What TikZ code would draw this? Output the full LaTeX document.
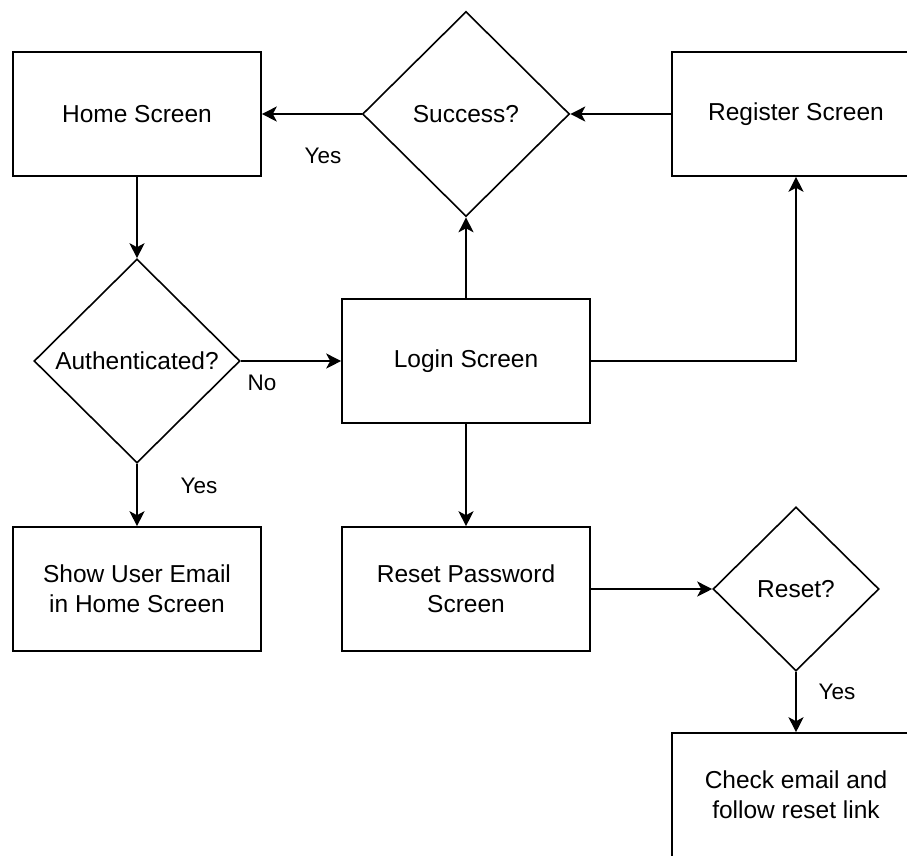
\documentclass[tikz,border=0pt]{standalone}
\usepackage{fontspec}
\setmainfont{Liberation Sans}
\usetikzlibrary{shapes.geometric,arrows.meta}
\begin{document}
\begin{tikzpicture}[x=1pt,y=-1pt,
  box/.style={draw=black,line width=1.6pt,rectangle,minimum width=248pt,minimum height=124pt,inner sep=0pt,align=center,font=\fontsize{24.5}{30}\selectfont},
  decision/.style={draw=black,line width=1.6pt,diamond,aspect=1,inner sep=0pt,align=center,font=\fontsize{24.5}{30}\selectfont},
  conn/.style={line width=1.6pt,-{Stealth[length=15pt,width=15pt,inset=4pt]}},
  lbl/.style={font=\fontsize{22.5}{26}\selectfont,inner sep=0pt}]
\useasboundingbox (0,0) rectangle (907,855);
\node[box] (home) at (137,114) {Home Screen};
\node[decision,minimum width=207pt,minimum height=205pt] (succ) at (466,114) {Success?};
\node[box] (reg) at (796,114) {Register Screen};
\node[decision,minimum width=206pt,minimum height=204pt] (auth) at (137,361) {Authenticated?};
\node[box] (login) at (466,361) {Login Screen};
\node[box] (show) at (137,589) {Show User Email\\in Home Screen};
\node[box] (resetpw) at (466,589) {Reset Password\\Screen};
\node[decision,minimum width=166pt,minimum height=164pt] (resetq) at (796,589) {Reset?};
\node[box] (check) at (796,795) {Check email and\\follow reset link};

\draw[conn] (succ.west) -- (succ.west -| home.east);
\draw[conn] (reg.west) -- (succ.east);
\draw[conn] (login.north) -- (succ.south);
\draw[conn] (login.east) -| (reg.south);
\draw[conn] (home.south) -- (auth.north);
\draw[conn] (auth.east) -- (login.west);
\draw[conn] (auth.south) -- (show.north);
\draw[conn] (login.south) -- (resetpw.north);
\draw[conn] (resetpw.east) -- (resetq.west);
\draw[conn] (resetq.south) -- (check.north);

\node[lbl] (l1) at (323,156) {Yes};
\node[lbl] (l2) at (262,383) {No};
\node[lbl] (l3) at (199,486) {Yes};
\node[lbl] (l4) at (837,692) {Yes};
\end{tikzpicture}
\end{document}
